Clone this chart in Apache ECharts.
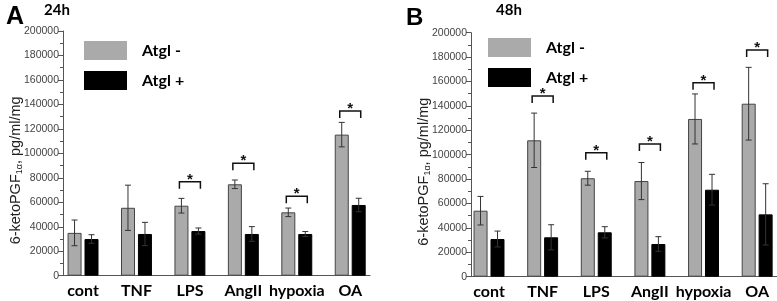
<!DOCTYPE html>
<html>
<head>
<meta charset="utf-8">
<script src="https://cdn.jsdelivr.net/npm/echarts@6.0.0/dist/echarts.min.js"></script>
<style>
  html, body { margin: 0; padding: 0; background: #fff; }
  #chart { width: 777px; height: 301px; }
</style>
</head>
<body>
<div id="chart"></div>
<script>
var categories = ['cont', 'TNF', 'LPS', 'AngII', 'hypoxia', 'OA']
var yTicks = [0, 20000, 40000, 60000, 80000, 100000, 120000, 140000, 160000, 180000, 200000]

// 24h
var minus24 = [35000, 55500, 57200, 74700, 51800, 115300]
var minus24Err = [10500, 18500, 6000, 3500, 3500, 10000]
var plus24 = [30000, 34100, 36500, 34100, 34100, 57800]
var plus24Err = [3500, 9500, 2500, 6000, 2000, 5500]
var sig24 = [null, null, 76800, 91900, 64900, 134600]

// 48h
var minus48 = [54100, 111800, 80700, 78400, 129300, 141800]
var minus48Err = [11700, 22300, 5700, 15200, 20500, 29800]
var plus48 = [30900, 32300, 36400, 26800, 71300, 51100]
var plus48Err = [6500, 10300, 4600, 6000, 12600, 25100]
var sig48 = [null, 148100, 101600, 108800, 159000, 185800]

var myChart = echarts.init(document.getElementById('chart'))

var barW = 14
var shift = 8.5

function pairs (arr) {
  return arr.map(function (v, i) { return [i, v] })
}

function errRows (vals, errs, side) {
  return vals.map(function (v, i) { return [i, v, errs[i], side] })
}

function sigRows (arr) {
  var out = []
  arr.forEach(function (v, i) {
    if (v !== null) out.push([i, v])
  })
  return out
}

function renderErr (params, api) {
  var i = api.value(0)
  var v = api.value(1)
  var e = api.value(2)
  var s = api.value(3)
  var top = api.coord([i, v + e])
  var bot = api.coord([i, v - e])
  var x = top[0] + s * shift
  var st = { stroke: '#333', lineWidth: 1 }
  return {
    type: 'group',
    children: [
      { type: 'line', shape: { x1: x, y1: top[1], x2: x, y2: bot[1] }, style: st },
      { type: 'line', shape: { x1: x - 3, y1: top[1], x2: x + 3, y2: top[1] }, style: st },
      { type: 'line', shape: { x1: x - 3, y1: bot[1], x2: x + 3, y2: bot[1] }, style: st }
    ]
  }
}

function renderSig (params, api) {
  var p = api.coord([api.value(0), api.value(1)])
  var h = 10.5
  return {
    type: 'group',
    children: [
      {
        type: 'polyline',
        shape: { points: [[p[0] - h, p[1] + 7], [p[0] - h, p[1]], [p[0] + h, p[1]], [p[0] + h, p[1] + 7]] },
        style: { stroke: '#111', lineWidth: 1.5, fill: null }
      },
      {
        type: 'text',
        style: {
          text: '*', x: p[0], y: p[1] - 2, align: 'center', verticalAlign: 'middle',
          fontSize: 15, fontWeight: 'bold', fontFamily: 'Liberation Sans', fill: '#111'
        }
      }
    ]
  }
}

function xAxisFor (idx, min) {
  return {
    gridIndex: idx,
    type: 'value',
    min: min,
    max: 5.37,
    axisLine: { show: true, onZero: false, lineStyle: { color: '#555' } },
    axisTick: { show: false },
    splitLine: { show: false },
    axisLabel: {
      customValues: [0, 1, 2, 3, 4, 5],
      formatter: function (v) { return categories[Math.round(v)] },
      fontFamily: 'Lato',
      fontWeight: 'bold',
      fontSize: 16,
      color: '#000',
      margin: 7
    }
  }
}

function yAxisFor (idx) {
  return {
    gridIndex: idx,
    type: 'value',
    min: yTicks[0],
    max: yTicks[yTicks.length - 1],
    interval: 20000,
    axisLine: { show: true, onZero: false, lineStyle: { color: '#555' } },
    axisTick: { show: true, length: 5, lineStyle: { color: '#555' } },
    minorTick: { show: true, splitNumber: 2, length: 3, lineStyle: { color: '#555' } },
    splitLine: { show: false },
    axisLabel: {
      fontFamily: 'Liberation Sans', fontSize: 10.5, color: '#444', margin: 4,
      formatter: function (v) { return String(v) }
    },
    name: '{a|6-ketoPGF}{s|1α}{a|, pg/ml/mg}',
    nameLocation: 'middle',
    nameRotate: 90,
    nameGap: 39,
    nameMoveOverlap: false,
    nameTextStyle: {
      padding: [0, 34, 0, 0],
      rich: {
        a: { fontFamily: 'Liberation Sans', fontSize: 14.5, color: '#222' },
        s: { fontFamily: 'Liberation Sans', fontSize: 9, color: '#222', padding: [8, 0, 0, 0] }
      }
    }
  }
}

function legendFor (left, top, gap) {
  return {
    orient: 'vertical',
    left: left,
    top: top,
    itemWidth: 43,
    itemHeight: 19,
    itemGap: gap,
    icon: 'rect',
    selectedMode: false,
    data: ['Atgl -', 'Atgl +'],
    itemStyle: { borderWidth: 0 },
    textStyle: { fontFamily: 'Lato', fontWeight: 'bold', fontSize: 16, color: '#000', padding: [0, 0, 0, 10] }
  }
}

function barSeries (name, data, idx, color, border) {
  return {
    type: 'bar',
    name: name,
    xAxisIndex: idx,
    yAxisIndex: idx,
    data: pairs(data),
    barWidth: barW,
    barGap: '21%',
    itemStyle: { color: color, borderColor: border, borderWidth: 1 },
    animation: false
  }
}

const option = {
  backgroundColor: '#fff',
  animation: false,
  title: [
    { text: 'A', left: 1, top: 0, textStyle: { fontFamily: 'Liberation Sans', fontWeight: 'bold', fontSize: 25, color: '#000' } },
    { text: '24h', left: 39, top: -2, textStyle: { fontFamily: 'Lato', fontWeight: 'bold', fontSize: 15, color: '#000' } },
    { text: 'B', left: 401, top: 1, textStyle: { fontFamily: 'Liberation Sans', fontWeight: 'bold', fontSize: 24, color: '#000' } },
    { text: '48h', left: 491, top: -2, textStyle: { fontFamily: 'Lato', fontWeight: 'bold', fontSize: 15, color: '#000' } }
  ],
  legend: [legendFor(79, 36, 11), legendFor(483, 33, 11)],
  grid: [
    { left: 63, top: 31, width: 307, height: 244.7 },
    { left: 471, top: 32.7, width: 306, height: 244 }
  ],
  xAxis: [xAxisFor(0, -0.375), xAxisFor(1, -0.336)],
  yAxis: [yAxisFor(0), yAxisFor(1)],
  series: [
    barSeries('Atgl -', minus24, 0, '#aaaaaa', '#444'),
    barSeries('Atgl +', plus24, 0, '#000', '#000'),
    barSeries('Atgl -', minus48, 1, '#aaaaaa', '#444'),
    barSeries('Atgl +', plus48, 1, '#000', '#000'),
    { type: 'custom', xAxisIndex: 0, yAxisIndex: 0, z: 5, renderItem: renderErr, data: errRows(minus24, minus24Err, -1) },
    { type: 'custom', xAxisIndex: 0, yAxisIndex: 0, z: 5, renderItem: renderErr, data: errRows(plus24, plus24Err, 1) },
    { type: 'custom', xAxisIndex: 1, yAxisIndex: 1, z: 5, renderItem: renderErr, data: errRows(minus48, minus48Err, -1) },
    { type: 'custom', xAxisIndex: 1, yAxisIndex: 1, z: 5, renderItem: renderErr, data: errRows(plus48, plus48Err, 1) },
    { type: 'custom', xAxisIndex: 0, yAxisIndex: 0, z: 5, renderItem: renderSig, data: sigRows(sig24) },
    { type: 'custom', xAxisIndex: 1, yAxisIndex: 1, z: 5, renderItem: renderSig, data: sigRows(sig48) }
  ]
}

myChart.setOption(option)
</script>
</body>
</html>
